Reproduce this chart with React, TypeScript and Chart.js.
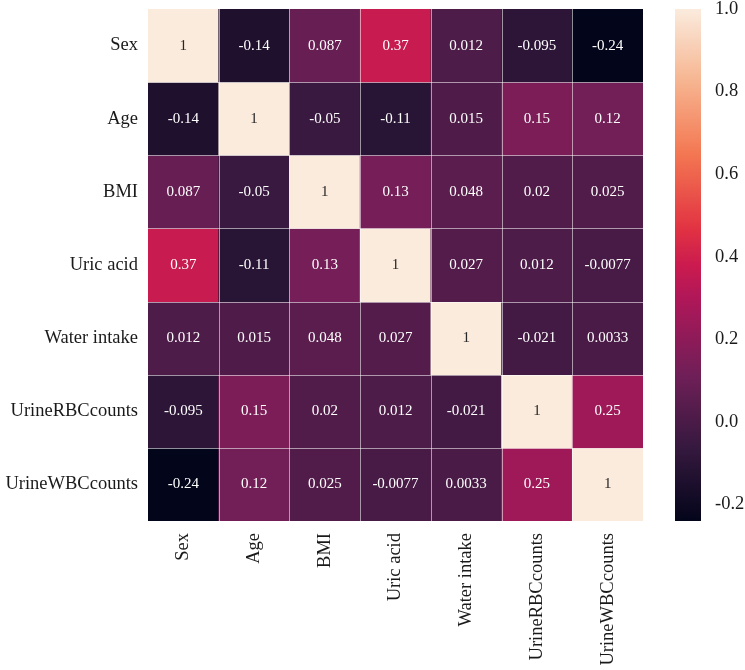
import React, { useEffect, useRef } from 'react';
import { Chart, registerables } from 'chart.js';

Chart.register(...registerables);

// Variable names (rows top-to-bottom, columns left-to-right)
const variables = ['Sex', 'Age', 'BMI', 'Uric acid', 'Water intake', 'UrineRBCcounts', 'UrineWBCcounts'];

// Correlation matrix, one row per variable
const sexRow = [1, -0.14, 0.087, 0.37, 0.012, -0.095, -0.24];
const ageRow = [-0.14, 1, -0.05, -0.11, 0.015, 0.15, 0.12];
const bmiRow = [0.087, -0.05, 1, 0.13, 0.048, 0.02, 0.025];
const uricAcidRow = [0.37, -0.11, 0.13, 1, 0.027, 0.012, -0.0077];
const waterIntakeRow = [0.012, 0.015, 0.048, 0.027, 1, -0.021, 0.0033];
const urineRbcRow = [-0.095, 0.15, 0.02, 0.012, -0.021, 1, 0.25];
const urineWbcRow = [-0.24, 0.12, 0.025, -0.0077, 0.0033, 0.25, 1];

const corrRows = [sexRow, ageRow, bmiRow, uricAcidRow, waterIntakeRow, urineRbcRow, urineWbcRow];

// Colour bar ticks
const colorbarTicks = [-0.2, 0.0, 0.2, 0.4, 0.6, 0.8, 1.0];

const V_MIN = Math.min(...corrRows.flat());
const V_MAX = Math.max(...corrRows.flat());

// "rocket" sequential colormap stops
const ROCKET: [number, [number, number, number]][] = [
  [0, [3, 5, 26]],
  [1 / 7, [53, 25, 62]],
  [2 / 7, [112, 31, 87]],
  [3 / 7, [173, 23, 89]],
  [0.5, [203, 27, 79]],
  [4 / 7, [225, 51, 66]],
  [5 / 7, [243, 118, 81]],
  [6 / 7, [246, 180, 143]],
  [1, [250, 235, 221]],
];

function rocketRgb(t: number): [number, number, number] {
  const x = Math.max(0, Math.min(1, t));
  for (let i = 1; i < ROCKET.length; i++) {
    const [p1, c1] = ROCKET[i];
    const [p0, c0] = ROCKET[i - 1];
    if (x <= p1) {
      const f = (x - p0) / (p1 - p0);
      return [0, 1, 2].map((k) => Math.round(c0[k] + (c1[k] - c0[k]) * f)) as [number, number, number];
    }
  }
  return ROCKET[ROCKET.length - 1][1];
}

const norm = (v: number) => (v - V_MIN) / (V_MAX - V_MIN);
const cellColor = (v: number) => {
  const [r, g, b] = rocketRgb(norm(v));
  return `rgb(${r},${g},${b})`;
};
const textColor = (v: number) => {
  const [r, g, b] = rocketRgb(norm(v)).map((c) => {
    const s = c / 255;
    return s <= 0.03928 ? s / 12.92 : Math.pow((s + 0.055) / 1.055, 2.4);
  });
  const lum = 0.2126 * r + 0.7152 * g + 0.0722 * b;
  return lum > 0.408 ? '#262626' : '#ffffff';
};
const fmt2g = (v: number) => String(Number(v.toPrecision(2)));

const FONT = "'Liberation Serif', 'Times New Roman', serif";

// keep tick-label overhang from pushing the plot area around
const noScalePadding = (scale: any) => {
  scale.paddingTop = 0;
  scale.paddingBottom = 0;
  scale.paddingLeft = 0;
  scale.paddingRight = 0;
};

const heatmapOverlay = {
  id: 'heatmapOverlay',
  beforeDatasetsDraw(chart: any) {
    // colour bar drawn inside the right-hand axis box
    const cb = chart.scales.cb;
    const ctx = chart.ctx;
    const top = cb.getPixelForValue(V_MAX);
    const bottom = cb.getPixelForValue(V_MIN);
    const x0 = cb.left + 32;
    const w = 26;
    const grad = ctx.createLinearGradient(0, bottom, 0, top);
    for (let i = 0; i <= 60; i++) {
      const t = i / 60;
      const [r, g, b] = rocketRgb(t);
      grad.addColorStop(t, `rgb(${r},${g},${b})`);
    }
    ctx.save();
    ctx.fillStyle = grad;
    ctx.fillRect(x0, top, w, bottom - top);
    ctx.restore();
  },
  afterDatasetsDraw(chart: any) {
    const ctx = chart.ctx;
    const xs = chart.scales.x;
    const ys = chart.scales.y;
    const area = chart.chartArea;
    ctx.save();
    // thin separators between cells
    ctx.strokeStyle = 'rgba(255,255,255,0.55)';
    ctx.lineWidth = 1;
    for (let i = 1; i < variables.length; i++) {
      const px = Math.round((xs.getPixelForValue(i - 1) + xs.getPixelForValue(i)) / 2) + 0.5;
      ctx.beginPath();
      ctx.moveTo(px, area.top);
      ctx.lineTo(px, area.bottom);
      ctx.stroke();
      const py = Math.round(ys.getPixelForValue(i)) + 0.5;
      ctx.beginPath();
      ctx.moveTo(area.left, py);
      ctx.lineTo(area.right, py);
      ctx.stroke();
    }
    // cell annotations
    ctx.font = `15px ${FONT}`;
    ctx.textAlign = 'center';
    ctx.textBaseline = 'middle';
    corrRows.forEach((row, r) => {
      row.forEach((v, c) => {
        ctx.fillStyle = textColor(v);
        ctx.fillText(fmt2g(v), xs.getPixelForValue(c), ys.getPixelForValue(r + 0.5));
      });
    });
    ctx.restore();
  },
};

export default function App() {
  const canvasRef = useRef<HTMLCanvasElement | null>(null);

  useEffect(() => {
    if (!canvasRef.current) return;
    const datasets = corrRows.map((row, r) => ({
      label: variables[r],
      data: row.map(() => [r, r + 1]),
      backgroundColor: row.map((v) => cellColor(v)),
      borderWidth: 0,
      barPercentage: 1,
      categoryPercentage: 1,
      grouped: false,
      yAxisID: 'y',
    }));

    const chart = new Chart(canvasRef.current, {
      type: 'bar',
      data: { labels: variables, datasets: datasets as any },
      plugins: [heatmapOverlay],
      options: {
        responsive: false,
        animation: false,
        layout: { padding: { top: 9, left: 0, right: 0, bottom: 0 } },
        plugins: { legend: { display: false }, tooltip: { enabled: false } },
        scales: {
          x: {
            type: 'category',
            grid: { display: false, drawTicks: false },
            border: { display: false },
            ticks: {
              autoSkip: false,
              minRotation: 90,
              maxRotation: 90,
              padding: 12,
              color: '#1a1a1a',
              font: { family: FONT, size: 18.5 },
            },
            afterFit: (scale: any) => {
              scale.height = 149;
              noScalePadding(scale);
            },
          },
          y: {
            type: 'linear',
            position: 'left',
            min: 0,
            max: variables.length,
            reverse: true,
            grid: { display: false, drawTicks: false },
            border: { display: false },
            afterBuildTicks: (scale: any) => {
              scale.ticks = variables.map((_, i) => ({ value: i + 0.5 }));
            },
            ticks: {
              autoSkip: false,
              padding: 10,
              color: '#1a1a1a',
              font: { family: FONT, size: 18.5 },
              callback: (v: any) => variables[Math.floor(Number(v))],
            },
            afterFit: (scale: any) => {
              scale.width = 148;
              noScalePadding(scale);
            },
          },
          cb: {
            type: 'linear',
            position: 'right',
            min: V_MIN,
            max: V_MAX,
            grid: { display: false, drawTicks: false },
            border: { display: false },
            afterBuildTicks: (scale: any) => {
              scale.ticks = colorbarTicks.map((value) => ({ value }));
            },
            ticks: {
              autoSkip: false,
              padding: 72,
              color: '#1a1a1a',
              font: { family: FONT, size: 18.5 },
              callback: (v: any) => Number(v).toFixed(1),
            },
            afterFit: (scale: any) => {
              scale.width = 102;
              noScalePadding(scale);
            },
          },
        },
      },
    });
    return () => chart.destroy();
  }, []);

  return (
    <canvas
      ref={canvasRef}
      width={745}
      height={670}
      style={{ position: 'fixed', left: 0, top: 0, display: 'block', background: '#ffffff' }}
    />
  );
}
